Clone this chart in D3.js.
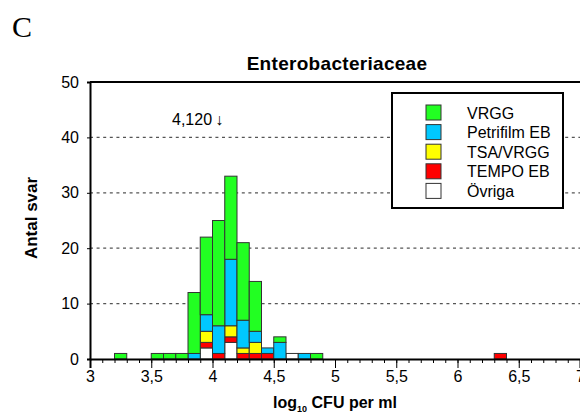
<!DOCTYPE html>
<html lang="sv">
<head>
<meta charset="UTF-8">
<title>Enterobacteriaceae</title>
<script src="https://d3js.org/d3.v7.min.js"></script>
<style>
  body { margin: 0; background: #fff; }
  svg { display: block; font-family: "Liberation Sans", Arial, sans-serif; }
</style>
</head>
<body>
<svg id="chart" width="580" height="416"></svg>
<script>
// Data: bin start (log10 CFU per ml, bin width 0.1) and counts per method
const binStarts = [3.2, 3.5, 3.6, 3.7, 3.8, 3.9, 4.0, 4.1, 4.2, 4.3, 4.4, 4.5, 4.6, 4.7, 4.8, 6.3];
const ovriga    = [0, 0, 0, 0, 0, 2, 0, 3, 0, 0, 0, 0, 1, 0, 0, 0];
const tempoEB   = [0, 0, 0, 0, 0, 1, 1, 1, 1, 1, 1, 0, 0, 0, 0, 1];
const tsaVRGG   = [0, 0, 0, 0, 0, 2, 0, 2, 1, 2, 0, 0, 0, 0, 0, 0];
const petrifilm = [0, 0, 0, 0, 1, 3, 5, 12, 5, 2, 1, 3, 0, 1, 0, 0];
const vrgg      = [1, 1, 1, 1, 11, 14, 19, 15, 14, 9, 0, 1, 0, 0, 1, 0];

const seriesNames  = ["VRGG", "Petrifilm EB", "TSA/VRGG", "TEMPO EB", "Övriga"];
const seriesColors = ["#22ff22", "#00c8ff", "#ffff00", "#ff0000", "#ffffff"];
const stackOrder   = ["Övriga", "TEMPO EB", "TSA/VRGG", "Petrifilm EB", "VRGG"];

const xTicks = [3, 3.5, 4, 4.5, 5, 5.5, 6, 6.5, 7];
const yTicks = [0, 10, 20, 30, 40, 50];
const binWidth = 0.1;

const rows = binStarts.map((b, i) => ({
  bin: b,
  "Övriga": ovriga[i],
  "TEMPO EB": tempoEB[i],
  "TSA/VRGG": tsaVRGG[i],
  "Petrifilm EB": petrifilm[i],
  "VRGG": vrgg[i]
}));

const svg = d3.select("#chart");
const plotL = 90, plotR = 580, plotT = 82, plotB = 359;

const x = d3.scaleLinear().domain([3, 7]).range([plotL, plotR]);
const y = d3.scaleLinear().domain([0, 50]).range([plotB, plotT]);
const color = d3.scaleOrdinal().domain(seriesNames).range(seriesColors);

// gridlines
svg.append("g")
  .selectAll("line")
  .data(yTicks.filter(d => d > 0 && d < 50))
  .join("line")
  .attr("x1", plotL).attr("x2", plotR)
  .attr("y1", d => y(d)).attr("y2", d => y(d))
  .attr("stroke", "#555")
  .attr("stroke-width", 1.2)
  .attr("stroke-dasharray", "3,3.6");

// bars
const stacked = d3.stack().keys(stackOrder)(rows);
svg.append("g")
  .selectAll("g")
  .data(stacked)
  .join("g")
  .attr("fill", d => color(d.key))
  .selectAll("rect")
  .data(d => d.filter(s => s[1] > s[0]))
  .join("rect")
  .attr("x", d => x(d.data.bin))
  .attr("width", x(3 + binWidth) - x(3))
  .attr("y", d => y(d[1]))
  .attr("height", d => y(d[0]) - y(d[1]))
  .attr("stroke", "#333")
  .attr("stroke-width", 1);

// frame: top line, left and bottom axis
svg.append("line")
  .attr("x1", plotL).attr("x2", plotR).attr("y1", plotT).attr("y2", plotT)
  .attr("stroke", "#000").attr("stroke-width", 2);

const yAxis = svg.append("g")
  .attr("transform", `translate(${plotL},0)`)
  .call(d3.axisLeft(y).tickValues(yTicks).tickSize(3).tickPadding(8).tickFormat(d3.format("d")));
yAxis.select(".domain").attr("stroke-width", 2);
yAxis.selectAll("text").attr("font-size", 16).attr("fill", "#000")
  .attr("font-family", "Liberation Sans, Arial, sans-serif");

const minorTicks = d3.range(30, 71).map(d => d / 10);
const xMinor = svg.append("g")
  .attr("transform", `translate(0,${plotB})`)
  .call(d3.axisBottom(x).tickValues(minorTicks).tickSize(4).tickFormat(""));
xMinor.select(".domain").remove();

const xAxis = svg.append("g")
  .attr("transform", `translate(0,${plotB})`)
  .call(d3.axisBottom(x).tickValues(xTicks).tickSize(9).tickPadding(3)
    .tickFormat(d => String(d).replace(".", ",")));
xAxis.select(".domain").attr("stroke-width", 2);
xAxis.selectAll("text").attr("font-size", 16).attr("fill", "#000")
  .attr("font-family", "Liberation Sans, Arial, sans-serif");

// title and labels
svg.append("text")
  .attr("x", 12).attr("y", 37)
  .attr("font-family", "Liberation Serif, Times New Roman, serif")
  .attr("font-size", 30)
  .text("C");

svg.append("text")
  .attr("x", 337).attr("y", 70)
  .attr("text-anchor", "middle")
  .attr("font-weight", "bold")
  .attr("font-size", 19)
  .attr("letter-spacing", 0.3)
  .text("Enterobacteriaceae");

svg.append("text")
  .attr("transform", "translate(37,218) rotate(-90)")
  .attr("text-anchor", "middle")
  .attr("font-weight", "bold")
  .attr("font-size", 17)
  .text("Antal svar");

const xl = svg.append("text")
  .attr("x", 335).attr("y", 408)
  .attr("text-anchor", "middle")
  .attr("font-weight", "bold")
  .attr("font-size", 16);
xl.append("tspan").text("log");
xl.append("tspan").attr("font-size", 9).attr("dy", 4).text("10");
xl.append("tspan").attr("dy", -4).text(" CFU per ml");

svg.append("text")
  .attr("x", 172).attr("y", 125)
  .attr("font-size", 16)
  .text("4,120\u2009\u2193");

// legend
const legend = svg.append("g");
legend.append("rect")
  .attr("x", 392).attr("y", 93).attr("width", 171).attr("height", 115)
  .attr("fill", "#fff").attr("stroke", "#000").attr("stroke-width", 2);

const item = legend.selectAll("g.item")
  .data(seriesNames)
  .join("g")
  .attr("class", "item")
  .attr("transform", (d, i) => `translate(426,${105 + i * 19.6})`);
item.append("rect")
  .attr("width", 15).attr("height", 15)
  .attr("fill", d => color(d))
  .attr("stroke", "#333").attr("stroke-width", 1);
item.append("text")
  .attr("x", 41).attr("y", 13.5)
  .attr("font-size", 16)
  .text(d => d);
</script>
</body>
</html>
